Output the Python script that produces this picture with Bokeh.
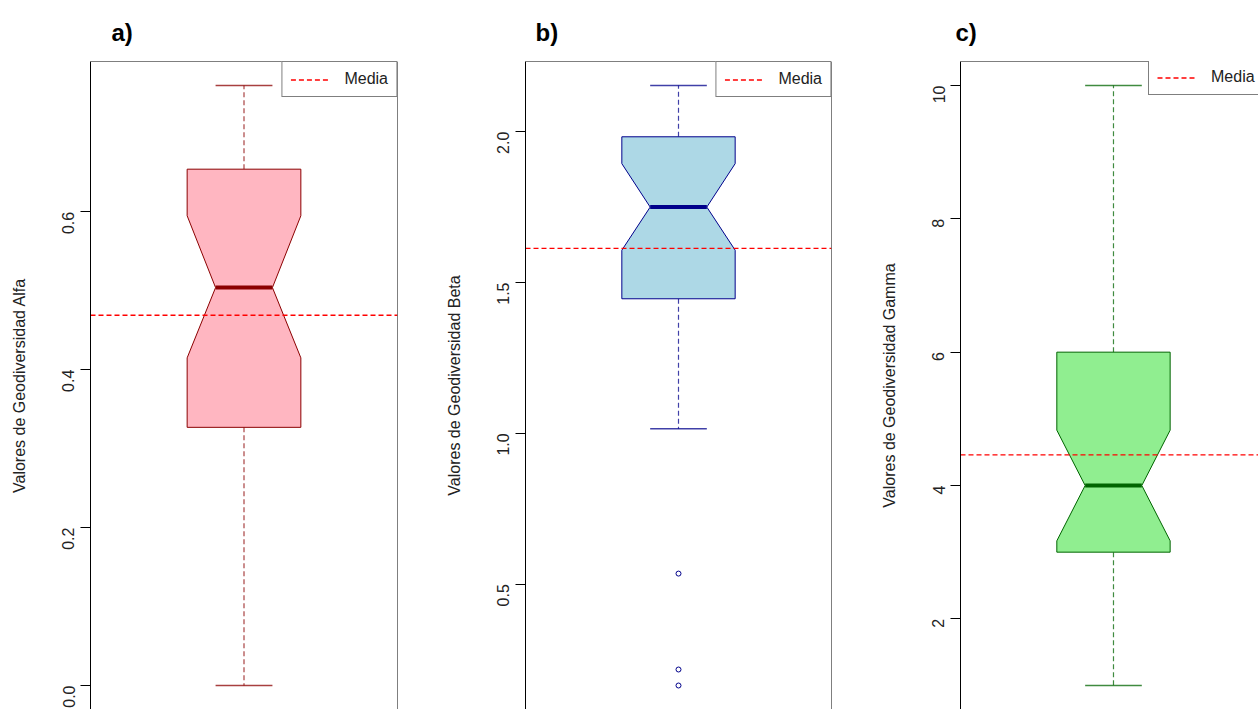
import math
from bokeh.plotting import figure
from bokeh.layouts import row
from bokeh.models import Span, Legend, LegendItem, FixedTicker, Range1d
from bokeh.embed import file_html
from bokeh.resources import INLINE

# ---------------- data ----------------
panel_tags = ["a)", "b)", "c)"]
y_labels = ["Valores de Geodiversidad Alfa",
            "Valores de Geodiversidad Beta",
            "Valores de Geodiversidad Gamma"]
whisker_low = [0.0, 1.015, 1.0]
q1 = [0.327, 1.446, 3.0]
median = [0.504, 1.750, 4.0]
q3 = [0.654, 1.983, 6.0]
whisker_high = [0.760, 2.153, 10.0]
notch_low = [0.415, 1.607, 3.17]
notch_high = [0.595, 1.894, 4.83]
means = [0.469, 1.613, 4.46]
outliers = [[], [0.535, 0.217, 0.164], []]
ticks = [[0.0, 0.2, 0.4, 0.6], [0.5, 1.0, 1.5, 2.0], [2, 4, 6, 8, 10]]
tick_labels = [["0.0", "0.2", "0.4", "0.6"],
               ["0.5", "1.0", "1.5", "2.0"],
               ["2", "4", "6", "8", "10"]]
fill_colors = ["#FFB6C1", "#ADD8E6", "#90EE90"]
border_colors = ["#8B0000", "#00008B", "#006400"]
mean_label = "Media"

# ---------------- layout ----------------
FONT = "Liberation Sans"
FRAME_TOP = 61
FRAME_H = 648
R_FRAME_H = 648
FULL_W = 307
lefts = [90, 82, 82]
rights = [45, 46, 0]
frame_ws = [307, 307, 299]
title_offsets = [21, 10, -5]
BOX_HALF = 0.2
CENTER = 1.0
LEG_H = 34

plots = []
for i in range(3):
    lo = min([whisker_low[i]] + outliers[i])
    hi = max([whisker_high[i]] + outliers[i])
    ext = 0.04 * (hi - lo)
    y_top = hi + ext
    y_bot_r = lo - ext
    y_bot = y_top - (y_top - y_bot_r) * FRAME_H / R_FRAME_H
    x_start = 0.46
    x_end_full = 1.54
    x_end = x_start + (x_end_full - x_start) * frame_ws[i] / FULL_W

    p = figure(width=lefts[i] + frame_ws[i] + rights[i], height=FRAME_TOP + FRAME_H,
               x_range=Range1d(x_start, x_end), y_range=Range1d(y_bot, y_top),
               output_backend="svg", toolbar_location=None, x_axis_location=None,
               min_border_left=lefts[i], min_border_right=rights[i],
               min_border_top=FRAME_TOP, min_border_bottom=0,
               outline_line_color=None, title=panel_tags[i])
    p.xgrid.visible = False
    p.ygrid.visible = False
    p.background_fill_color = "white"
    p.border_fill_color = "white"

    t = p.title
    t.text_font = FONT
    t.text_font_size = "24px"
    t.text_font_style = "bold"
    t.text_color = "black"
    t.align = "left"
    t.offset = title_offsets[i]
    t.standoff = 31

    ax = p.yaxis[0]
    ax.ticker = FixedTicker(ticks=ticks[i])
    ax.major_label_overrides = {tk: lab for tk, lab in zip(ticks[i], tick_labels[i])}
    ax.major_label_orientation = math.pi / 2
    ax.major_tick_out = 10
    ax.major_tick_in = 0
    ax.minor_tick_out = 0
    ax.minor_tick_in = 0
    ax.major_label_standoff = 12
    ax.major_label_text_font = FONT
    ax.major_label_text_font_size = "16px"
    ax.major_label_text_color = "#222222"
    ax.axis_line_color = "black"
    ax.major_tick_line_color = "black"
    ax.axis_label = y_labels[i]
    ax.axis_label_standoff = 26
    ax.axis_label_text_font = FONT
    ax.axis_label_text_font_size = "16px"
    ax.axis_label_text_font_style = "normal"
    ax.axis_label_text_color = "#222222"

    c = CENTER
    w = BOX_HALF
    col = border_colors[i]
    # whiskers
    p.segment(x0=[c, c], y0=[q3[i], q1[i]], x1=[c, c], y1=[whisker_high[i], whisker_low[i]],
              line_color=col, line_width=1.2, line_alpha=0.75, line_dash="5 3")
    # caps
    p.segment(x0=[c - w / 2] * 2, x1=[c + w / 2] * 2,
              y0=[whisker_high[i], whisker_low[i]], y1=[whisker_high[i], whisker_low[i]],
              line_color=col, line_width=1.5, line_alpha=0.75)
    # notched box
    bx = [c - w, c - w, c - w / 2, c - w, c - w, c + w, c + w, c + w / 2, c + w, c + w]
    by = [q1[i], notch_low[i], median[i], notch_high[i], q3[i],
          q3[i], notch_high[i], median[i], notch_low[i], q1[i]]
    p.patch(bx, by, fill_color=fill_colors[i], line_color=col, line_width=1)
    # median
    p.segment(x0=[c - w / 2], x1=[c + w / 2], y0=[median[i]], y1=[median[i]],
              line_color=col, line_width=4)
    # outliers
    if outliers[i]:
        p.scatter([c] * len(outliers[i]), outliers[i], marker="circle", size=5,
                  fill_color=None, line_color=col, line_width=1)
    # mean line
    r_mean = p.line([x_start, x_end], [means[i], means[i]], line_color="#FF0000",
                    line_width=1.3, line_dash="5 3")

    # frame borders (top, right)
    p.add_layout(Span(location=y_top, dimension="width", line_color="black", line_width=1))
    if frame_ws[i] == FULL_W:
        p.add_layout(Span(location=x_end_full, dimension="height", line_color="black", line_width=1))

    leg = Legend(items=[LegendItem(label=mean_label, renderers=[r_mean])],
                 border_line_color="black", border_line_width=1,
                 background_fill_color="white", background_fill_alpha=1,
                 padding=8, spacing=0, margin=0, glyph_width=38, glyph_height=17,
                 label_standoff=16, label_height=17,
                 label_text_font=FONT, label_text_font_size="16px",
                 label_text_color="#222222")
    if frame_ws[i] == FULL_W:
        leg.location = "top_right"
    else:
        leg.location = (188, FRAME_H - LEG_H)
    p.add_layout(leg)
    plots.append(p)

layout = row(*plots, spacing=0)
open("out.html", "w").write(file_html(layout, INLINE))
